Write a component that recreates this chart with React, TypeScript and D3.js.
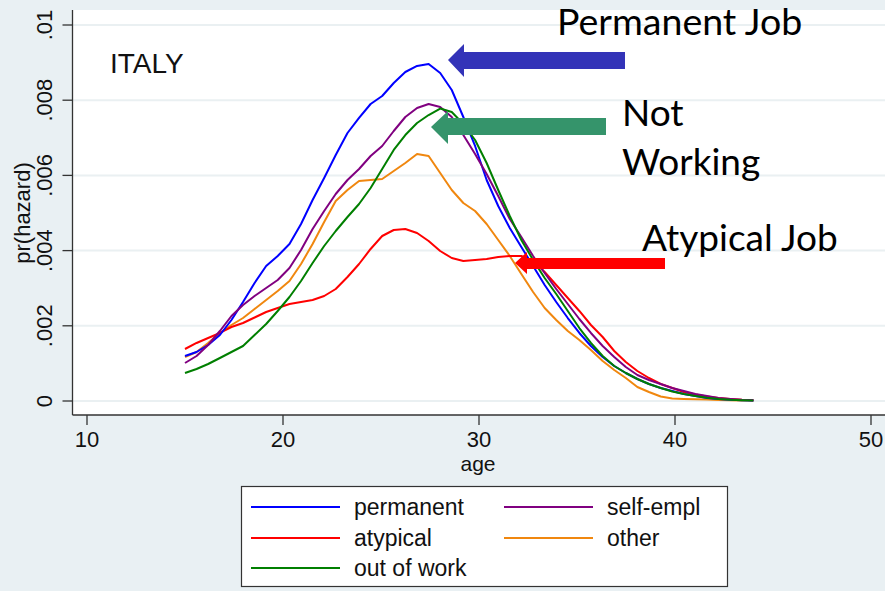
import React from "react";
import * as d3 from "d3";

// ages (x) shared by all series
const ages = [15, 15.59, 16.18, 16.78, 17.37, 17.96, 18.55, 19.14, 19.73, 20.33, 20.92, 21.51, 22.1, 22.69, 23.29, 23.88, 24.47, 25.06, 25.65, 26.24, 26.84, 27.43, 28.02, 28.61, 29.2, 29.8, 30.39, 30.98, 31.57, 32.16, 32.76, 33.35, 33.94, 34.53, 35.12, 35.71, 36.31, 36.9, 37.49, 38.08, 38.67, 39.27, 39.86, 40.45, 41.04, 41.63, 42.22, 42.82, 43.41, 44];

// hazard values in units of 0.001
const permanent = [1.197, 1.303, 1.489, 1.755, 2.154, 2.633, 3.138, 3.59, 3.856, 4.176, 4.707, 5.346, 5.931, 6.543, 7.128, 7.527, 7.899, 8.112, 8.457, 8.75, 8.91, 8.963, 8.723, 8.271, 7.553, 6.782, 5.878, 5.186, 4.601, 4.096, 3.59, 3.085, 2.633, 2.207, 1.809, 1.463, 1.17, 0.931, 0.745, 0.585, 0.452, 0.346, 0.266, 0.186, 0.133, 0.08, 0.053, 0.032, 0.021, 0.013];
const selfEmpl = [1.011, 1.197, 1.489, 1.862, 2.261, 2.553, 2.793, 3.005, 3.218, 3.537, 4.016, 4.574, 5.053, 5.505, 5.878, 6.17, 6.516, 6.782, 7.181, 7.553, 7.793, 7.899, 7.819, 7.553, 7.074, 6.569, 6.037, 5.452, 4.84, 4.362, 3.856, 3.404, 2.979, 2.58, 2.181, 1.809, 1.463, 1.17, 0.904, 0.691, 0.559, 0.452, 0.346, 0.266, 0.186, 0.133, 0.08, 0.053, 0.032, 0.019];
const outOfWork = [0.745, 0.851, 0.984, 1.144, 1.303, 1.463, 1.755, 2.048, 2.394, 2.766, 3.191, 3.67, 4.122, 4.521, 4.894, 5.239, 5.665, 6.17, 6.676, 7.074, 7.394, 7.606, 7.779, 7.686, 7.367, 6.941, 6.33, 5.612, 4.92, 4.282, 3.75, 3.271, 2.846, 2.394, 1.941, 1.543, 1.197, 0.931, 0.745, 0.585, 0.452, 0.346, 0.253, 0.186, 0.133, 0.085, 0.053, 0.032, 0.021, 0.013];
const other = [1.17, 1.303, 1.543, 1.809, 2.021, 2.207, 2.447, 2.686, 2.926, 3.191, 3.644, 4.176, 4.761, 5.319, 5.612, 5.851, 5.878, 5.904, 6.117, 6.33, 6.569, 6.516, 6.064, 5.612, 5.266, 5.053, 4.707, 4.282, 3.856, 3.378, 2.899, 2.473, 2.154, 1.862, 1.622, 1.356, 1.064, 0.824, 0.612, 0.372, 0.239, 0.12, 0.066, 0.053, 0.045, 0.037, 0.027, 0.021, 0.016, 0.013];
const atypical = [1.383, 1.543, 1.676, 1.809, 1.968, 2.074, 2.221, 2.367, 2.473, 2.58, 2.633, 2.686, 2.793, 2.979, 3.298, 3.644, 4.043, 4.388, 4.548, 4.574, 4.468, 4.255, 3.989, 3.803, 3.723, 3.75, 3.777, 3.83, 3.856, 3.856, 3.723, 3.431, 3.085, 2.739, 2.394, 2.021, 1.702, 1.33, 1.037, 0.798, 0.612, 0.452, 0.346, 0.239, 0.173, 0.12, 0.08, 0.053, 0.032, 0.019];

const seriesNames = ["permanent", "self-empl", "atypical", "other", "out of work"];
const seriesColors = ["#0000ff", "#800080", "#ff0000", "#f0870f", "#007f00"];
const seriesValues = [permanent, selfEmpl, atypical, other, outOfWork];
// drawing order (green on top like reference)
const drawOrder = [3, 2, 0, 1, 4];

const xTicks = [10, 20, 30, 40, 50];
const yTicks = [0, 2, 4, 6, 8, 10];
const yTickLabels = ["0", ".002", ".004", ".006", ".008", ".01"];

const legendOrder = [0, 1, 2, 3, 4];

export default function App() {
  const W = 885, H = 591;
  const x = d3.scaleLinear().domain([10, 50]).range([87, 871]);
  const y = d3.scaleLinear().domain([0, 10]).range([401, 25]);
  const plotL = 72.5, plotT = 10, plotB = 415, plotR = 885;
  const line = d3.line<number>().x((_, i) => x(ages[i])).y((d) => y(d));
  const bg = "#e9f0f3";
  const font = "Liberation Sans, Arial, sans-serif";
  const annoFont = "Lato, 'Open Sans', sans-serif";

  const legendPos = [
    { lx: 251, ty: 507 },
    { lx: 504, ty: 507 },
    { lx: 251, ty: 538 },
    { lx: 504, ty: 538 },
    { lx: 251, ty: 568 },
  ];

  return (
    <svg width={W} height={H} style={{ position: "absolute", left: 0, top: 0, display: "block" }}>
      <rect x={0} y={0} width={W} height={H} fill={bg} />
      <rect x={plotL} y={plotT} width={plotR - plotL} height={plotB - plotT} fill="#ffffff" />
      {yTicks.map((t) => (
        <line key={"g" + t} x1={plotL} x2={plotR} y1={y(t)} y2={y(t)} stroke="#eaf0f2" strokeWidth={2} />
      ))}
      <line x1={plotL} x2={plotL} y1={plotT} y2={plotB} stroke="#333" strokeWidth={1.3} />
      <line x1={plotL} x2={plotR} y1={plotB} y2={plotB} stroke="#333" strokeWidth={1.3} />
      {yTicks.map((t, i) => (
        <g key={"yt" + t}>
          <line x1={plotL - 10} x2={plotL} y1={y(t)} y2={y(t)} stroke="#333" strokeWidth={1.3} />
          <text
            transform={`translate(52,${y(t)}) rotate(-90)`}
            textAnchor="middle"
            fontFamily={font}
            fontSize={22}
            fill="#111"
          >
            {yTickLabels[i]}
          </text>
        </g>
      ))}
      {xTicks.map((t) => (
        <g key={"xt" + t}>
          <line x1={x(t)} x2={x(t)} y1={plotB} y2={plotB + 10} stroke="#333" strokeWidth={1.3} />
          <text x={x(t)} y={447} textAnchor="middle" fontFamily={font} fontSize={22} fill="#111">
            {t}
          </text>
        </g>
      ))}
      <text x={478} y={471} textAnchor="middle" fontFamily={font} fontSize={21} fill="#111">
        age
      </text>
      <text transform="translate(30,213) rotate(-90)" textAnchor="middle" fontFamily={font} fontSize={22} fill="#111">
        pr(hazard)
      </text>

      {drawOrder.map((si) => (
        <path key={"s" + si} d={line(seriesValues[si]) || ""} fill="none" stroke={seriesColors[si]} strokeWidth={2} strokeLinejoin="round" />
      ))}

      <text x={110} y={73} fontFamily={font} fontSize={28} fill="#111">
        ITALY
      </text>

      <path d="M448,60 L464,44 L464,52 L625,52 L625,69 L464,69 L464,77 Z" fill="#3333b8" />
      <path d="M431,127 L448,111 L448,118 L606,118 L606,135 L448,135 L448,144 Z" fill="#35946b" />
      <path d="M515,263 L527,252 L527,258 L665,258 L665,269 L527,269 L527,274 Z" fill="#ff0000" />

      <text x={557} y={35} fontFamily={annoFont} fontSize={37.5} fill="#000">
        Permanent Job
      </text>
      <text x={622} y={126} fontFamily={annoFont} fontSize={37} fill="#000">
        Not
      </text>
      <text x={622} y={175} fontFamily={annoFont} fontSize={37} fill="#000">
        Working
      </text>
      <text x={642} y={251} fontFamily={annoFont} fontSize={37} fill="#000">
        Atypical Job
      </text>

      <rect x={241.5} y={486.5} width={486} height={100} fill="#ffffff" stroke="#333" strokeWidth={1.2} />
      {legendOrder.map((si, i) => (
        <g key={"l" + si}>
          <line x1={legendPos[i].lx} x2={legendPos[i].lx + 89} y1={legendPos[i].ty} y2={legendPos[i].ty} stroke={seriesColors[si]} strokeWidth={2} />
          <text x={legendPos[i].lx + 103} y={legendPos[i].ty + 8} fontFamily={font} fontSize={23} fill="#111">
            {seriesNames[si]}
          </text>
        </g>
      ))}
    </svg>
  );
}
